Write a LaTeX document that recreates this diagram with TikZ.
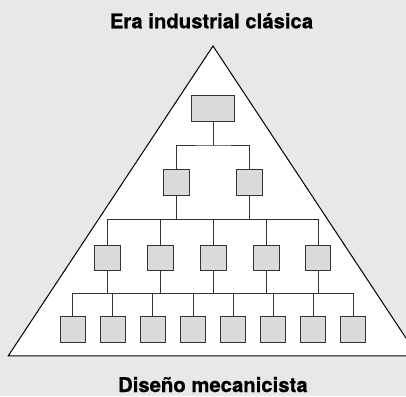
\documentclass[tikz,border=0pt]{standalone}
\usepackage{fontspec}
\setmainfont{TeX Gyre Heros}
\newfontfamily\titlefont[FakeBold=0.6]{TeX Gyre Heros Bold}
\usetikzlibrary{calc}
\definecolor{bg}{HTML}{E8E8E8}
\definecolor{boxfill}{HTML}{DADADA}
\definecolor{linec}{HTML}{333333}
\begin{document}
\begin{tikzpicture}[x=1pt,y=-1pt,
  box/.style={draw=linec,fill=boxfill,line width=1pt,inner sep=0pt,minimum width=25.5pt,minimum height=25.5pt},
  topbox/.style={box,minimum width=43pt,minimum height=25.5pt},
  conn/.style={draw=linec,line width=1pt},
  title/.style={font=\titlefont\fontsize{20.3}{24}\selectfont,anchor=base,inner sep=0pt}]
\useasboundingbox[fill=bg] (0,0) rectangle (406,396);
% triangle
\coordinate (apex) at (213,46);
\coordinate (bl) at (8.3,355.8);
\coordinate (br) at (417.7,355.8);
\draw[fill=white,line width=1pt,line join=miter] (apex) -- (bl) -- (br) -- cycle;
% titles
\node[title] (t1) at (211.5,28.3) {Era industrial clásica};
\node[title] (t2) at (212.9,392) {Diseño mecanicista};
% boxes
\node[topbox] (top) at (213.3,108.7) {};
\node[box] (l2a) at (176.5,182.6) {};
\node[box] (l2b) at (249.5,182.6) {};
\foreach \n/\x in {a/107.5,b/160.4,c/213.3,d/266.4,e/318}
  \node[box] (l3\n) at (\x,258) {};
\foreach \n/\x in {a/72.8,b/112.8,c/152.9,d/193,e/233.1,f/273.2,g/313.2,h/353.2}
  \node[box] (l4\n) at (\x,329.4) {};
% buses
\coordinate (bus1) at (213.3,145);
\coordinate (bus2) at (213.3,219.3);
\coordinate (bus3) at (213.3,293.7);
% level 1 -> 2
\draw[conn] (top.south) -- (bus1);
\draw[conn] (l2a.north) |- (bus1) -| (l2b.north);
% level 2 -> 3
\draw[conn] (l2a.south) -- (l2a.south |- bus2);
\draw[conn] (l2b.south) -- (l2b.south |- bus2);
\draw[conn] (l3a.north) |- (bus2) -| (l3e.north);
\foreach \n in {b,c,d}
  \draw[conn] (l3\n.north) -- (l3\n.north |- bus2);
% level 3 -> 4
\foreach \n in {a,b,c,d,e}
  \draw[conn] (l3\n.south) -- (l3\n.south |- bus3);
\draw[conn] (l4a.north) |- (bus3) -| (l4h.north);
\foreach \n in {b,c,d,e,f,g}
  \draw[conn] (l4\n.north) -- (l4\n.north |- bus3);
\end{tikzpicture}
\end{document}
